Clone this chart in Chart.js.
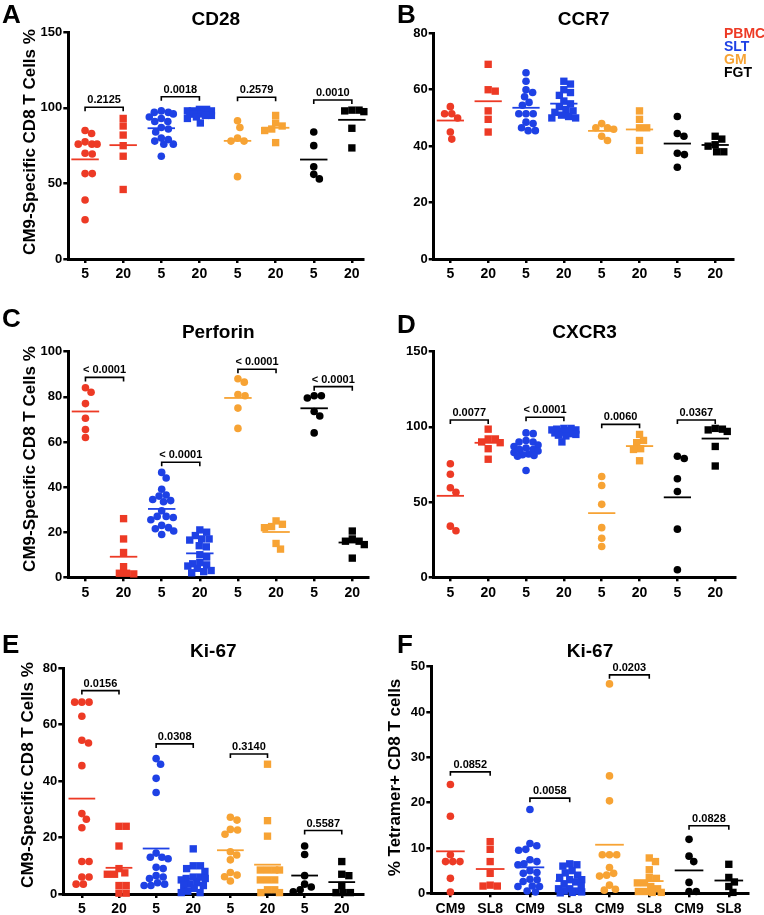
<!DOCTYPE html>
<html>
<head>
<meta charset="utf-8">
<script src="https://cdn.jsdelivr.net/npm/chart.js@4.4.0/dist/chart.umd.min.js"></script>
<style>
  body { margin: 0; background: #fff; width: 764px; height: 915px; position: relative; overflow: hidden; }
  canvas { position: absolute; }
</style>
</head>
<body>
<script>
const FONT = "'Liberation Sans', Arial, Helvetica, sans-serif";

const tissueNames = ['PBMC', 'SLT', 'GM', 'FGT'];
const tissueColors = ['#ED3A25', '#1E41E5', '#F7A334', '#000000'];
const dayLabels = ['5', '20', '5', '20', '5', '20', '5', '20'];
const peptideLabels = ['CM9', 'SL8', 'CM9', 'SL8', 'CM9', 'SL8', 'CM9', 'SL8'];

// A - CD28, groups: PBMC d5, PBMC d20, SLT d5, SLT d20, GM d5, GM d20, FGT d5, FGT d20
const cd28 = [
  [85, 83, 77.5, 76, 76, 76, 70, 69.5, 56.5, 56.5, 39, 26],
  [93, 88, 82, 75, 68, 46],
  [98, 97, 97, 96, 94, 93, 91, 91, 87, 86, 84, 80, 79, 78, 76, 76, 68],
  [99, 99, 98, 98, 98, 97, 97, 97, 96, 96, 96, 95, 95, 94, 93, 90],
  [91.5, 87, 80, 78, 78, 54.5],
  [95, 90, 88, 86, 85, 77],
  [84, 75, 61, 56, 53],
  [98.5, 98, 98.5, 97.5, 86.5, 73.5]
];
const cd28P = ['0.2125', '0.0018', '0.2579', '0.0010'];

// B - CCR7
const ccr7 = [
  [54, 51.5, 51.5, 50, 45, 42.5],
  [69, 60, 59.5, 52.5, 49.5, 45],
  [66, 63, 60, 59, 57.5, 55.5, 54.5, 51.5, 51.5, 51.5, 48.5, 48, 46.5, 45.5, 45.5],
  [63, 62, 60, 59, 58, 56, 55, 54, 53, 52.5, 52, 51, 50.5, 50, 50],
  [48, 46.5, 46.5, 46, 43.5, 42],
  [52.5, 49.5, 46.5, 46.5, 42, 38.5],
  [50.5, 44.5, 43.5, 37.5, 37, 32.5],
  [43.5, 42.5, 40.5, 40, 38, 38]
];

// C - Perforin
const perforin = [
  [84, 82, 77, 70.5, 65.5, 62],
  [26, 17, 11, 4.7, 1.8, 1.5, 1.8],
  [46.5, 44, 39, 36.5, 36, 34.5, 34, 33.5, 29.5, 27, 27, 26.5, 25.5, 23, 22, 21.5, 19, 20.5],
  [21, 20, 18.5, 17, 17, 16.5, 13.5, 14, 10, 9, 6.5, 6, 5.5, 5, 4, 3, 2.5, 2],
  [88, 86.5, 81, 80.5, 75, 66],
  [25, 23.5, 22.5, 22, 15, 12.5],
  [80.5, 80.5, 79.5, 73.5, 71.5, 64],
  [20.5, 17, 16, 16, 14.5, 8.5]
];
const perforinP = ['< 0.0001', '< 0.0001', '< 0.0001', '< 0.0001'];

// D - CXCR3
const cxcr3 = [
  [75.5, 68.5, 59.5, 56.5, 34, 31],
  [98.5, 92, 92, 90, 89.5, 85.5, 78.5],
  [96, 95.5, 91, 90, 90, 88, 87, 86, 85, 85, 84, 83, 82, 81.5, 81, 80.5, 71],
  [99, 99, 98.5, 98, 98, 97.5, 97, 97, 96.5, 96, 95.5, 95, 94.5, 94, 90],
  [67, 61, 48.5, 33, 26, 20.5],
  [95, 91, 89.5, 85.5, 85, 77.5],
  [80.5, 79, 65.5, 57, 32, 5],
  [99, 98.5, 98, 97, 87, 74]
];
const cxcr3P = ['0.0077', '< 0.0001', '0.0060', '0.0367'];

// E - Ki-67 by day
const ki67Day = [
  [68, 68, 68, 63, 54.5, 53.5, 45.5, 28.5, 26.5, 23.5, 11.5, 11.5, 6, 6, 3.5, 3.5],
  [24, 24, 17, 9, 7.5, 7, 7, 3, 3, 0.3, 0.3],
  [48, 46, 41, 36, 14.5, 13, 13, 12.5, 9.5, 9, 6.5, 6, 5.5, 4, 3.5, 3, 3],
  [16, 10, 10, 9, 8, 6, 6, 5.5, 5.5, 5, 4, 3.5, 3, 3, 2, 1, 0.5, 0.5],
  [27.2, 26.2, 22.9, 22.7, 21.2, 15, 13.8, 12.1, 7.6, 6.7, 6.1, 4.6],
  [46, 26, 20.5, 8.5, 8.5, 8.5, 8.5, 5, 5, 5, 1.5, 1.5, 0.5, 0.5],
  [17, 14, 6.5, 3.5, 2.5, 1.5, 0.8],
  [11.5, 7, 6.5, 3, 0.5, 0.5, 0.5]
];
const ki67DayP = ['0.0156', '0.0308', '0.3140', '0.5587'];

// F - Ki-67 by peptide
const ki67Pep = [
  [24, 17, 8.5, 7, 7, 7, 3.3, 0.3],
  [11.4, 9.7, 7, 4.4, 1.8, 1.6, 1.6],
  [18.5, 11, 10.5, 9.7, 9.5, 7.4, 7, 6.5, 6.3, 5, 4.6, 4.4, 3.1, 3, 2.6, 1.6, 1.5, 1.5, 0.5, 0.3],
  [6.5, 6.3, 6, 5, 4.5, 4, 3.5, 3, 3, 2.5, 2, 1.5, 1, 1, 0.5, 0.5, 0.3, 0.2, 0.1],
  [46.2, 25.9, 20.4, 8.5, 8.5, 8.5, 5.7, 4.4, 4, 3.8, 1.8, 0.9, 0.7],
  [7.8, 7, 5.2, 3.5, 3.3, 2.3, 2.3, 1.5, 1, 0.4, 0.4, 0.2, 0.2],
  [11.9, 8.2, 7, 2.4, 0.4, 0.4],
  [6.4, 3.5, 2.5, 1.5, 0.2]
];
const ki67PepP = ['0.0852', '0.0058', '0.0203', '0.0828'];

const yTitleDay = 'CM9-Specific CD8 T Cells %';

const panels = [
  { letter: 'A', title: 'CD28', data: cd28, labels: dayLabels, pvals: cd28P, yMax: 150, step: 50, yTitle: yTitleDay,
    box: [0, 0, 382, 295], area: [68.3, 32.3, 363.3, 259], xr: [-0.44, 7.3],
    letterPos: [2, 23], titleY: 25, yTitlePos: [30, 142], bracketY: [100.4, 107.4, 107, 105.2] },
  { letter: 'B', title: 'CCR7', data: ccr7, labels: dayLabels, pvals: null, yMax: 80, step: 20, yTitle: null,
    box: [382, 0, 382, 295], area: [51.7, 33.3, 351.7, 259], xr: [-0.44, 7.49],
    letterPos: [15, 23], titleY: 25, legend: true },
  { letter: 'C', title: 'Perforin', data: perforin, labels: dayLabels, pvals: perforinP, yMax: 100, step: 20, yTitle: yTitleDay,
    box: [0, 295, 382, 305], area: [68.3, 56.7, 368.3, 282.3], xr: [-0.45, 7.42],
    letterPos: [2, 32], titleY: 43, yTitlePos: [30, 164], bracketY: [88.6, 51, 92.2, 84.5] },
  { letter: 'D', title: 'CXCR3', data: cxcr3, labels: dayLabels, pvals: cxcr3P, yMax: 150, step: 50, yTitle: null,
    box: [382, 295, 382, 305], area: [51.7, 56.7, 353.3, 282.3], xr: [-0.44, 7.53],
    letterPos: [15, 38], titleY: 43, bracketY: [104.6, 106.4, 101.7, 104.6] },
  { letter: 'E', title: 'Ki-67', data: ki67Day, labels: dayLabels, pvals: ki67DayP, yMax: 80, step: 20, yTitle: yTitleDay,
    box: [0, 600, 382, 315], area: [63.3, 68.3, 363.3, 294], xr: [-0.5, 7.58],
    letterPos: [2, 53], titleY: 57, yTitlePos: [28, 175], bracketY: [72.1, 53.2, 49.6, 22.5] },
  { letter: 'F', title: 'Ki-67', data: ki67Pep, labels: peptideLabels, pvals: ki67PepP, yMax: 50, step: 10, yTitle: '% Tetramer+ CD8 T cells',
    box: [382, 600, 382, 315], area: [49.3, 66.7, 366.7, 293.3], xr: [-0.48, 7.5],
    letterPos: [15, 53], titleY: 57, yTitlePos: [13.5, 177.5], bracketY: [26.8, 21, 48.2, 14.9] }
];

// beeswarm: spread points sideways, but never wider than maxW px from the centre
function swarm(vals, pxX, pxY, d, maxW) {
  const order = vals.map((v, i) => i).sort((a, b) => vals[b] - vals[a]);
  const placed = [];
  const off = new Array(vals.length).fill(0);
  order.forEach(i => {
    const y = vals[i] * pxY;
    const near = placed.filter(p => Math.abs(p.y - y) < d);
    const cands = [0];
    near.forEach(p => {
      const dx = Math.sqrt(d * d - (p.y - y) * (p.y - y));
      cands.push(p.x + dx, p.x - dx);
    });
    cands.sort((a, b) => Math.abs(a) - Math.abs(b));
    let x = cands.find(c => Math.abs(c) <= maxW &&
      near.every(p => (p.x - c) ** 2 + (p.y - y) ** 2 >= d * d - 0.01));
    if (x === undefined) {
      let bestD = -1;
      for (let c = 0; c <= maxW; c += 0.5) {
        [c, -c].forEach(s => {
          const md = Math.min(...near.map(p => Math.hypot(p.x - s, p.y - y)));
          if (md > bestD + 0.01) { bestD = md; x = s; }
        });
      }
    }
    placed.push({ x: x, y: y });
    off[i] = x / pxX;
  });
  return off;
}

function mean(a) {
  return a.reduce((s, v) => s + v, 0) / a.length;
}

const annot = {
  id: 'annot',
  afterDatasetsDraw(chart, args, o) {
    const ctx = chart.ctx;
    const xs = chart.scales.x, ys = chart.scales.y, a = chart.chartArea;
    ctx.save();
    ctx.fillStyle = '#000';
    ctx.textBaseline = 'alphabetic';

    ctx.font = 'bold 26px ' + FONT;
    ctx.textAlign = 'left';
    ctx.fillText(o.letter, o.letterPos[0], o.letterPos[1]);

    ctx.font = 'bold 19px ' + FONT;
    ctx.textAlign = 'center';
    ctx.fillText(o.title, (a.left + a.right) / 2, o.titleY);

    if (o.yTitle) {
      ctx.save();
      ctx.translate(o.yTitlePos[0], o.yTitlePos[1]);
      ctx.rotate(-Math.PI / 2);
      ctx.font = 'bold 17px ' + FONT;
      ctx.textBaseline = 'middle';
      ctx.fillText(o.yTitle, 0, 0);
      ctx.restore();
    }

    if (o.pvals) {
      ctx.font = 'bold 11px ' + FONT;
      ctx.textAlign = 'center';
      o.pvals.forEach((t, j) => {
        const xm = (xs.getPixelForValue(2 * j) + xs.getPixelForValue(2 * j + 1)) / 2;
        ctx.fillText(t, xm, ys.getPixelForValue(o.bracketY[j]) - 4);
      });
    }

    if (o.legend) {
      ctx.font = 'bold 14px ' + FONT;
      ctx.textAlign = 'left';
      tissueNames.forEach((n, i) => {
        ctx.fillStyle = tissueColors[i];
        ctx.fillText(n, 342, 37.7 + i * 13);
      });
    }
    ctx.restore();
  }
};

panels.forEach(p => {
  const [bx, by, bw, bh] = p.box;
  const [al, at, ar, ab] = p.area;
  const cv = document.createElement('canvas');
  cv.width = bw;
  cv.height = bh;
  cv.style.left = bx + 'px';
  cv.style.top = by + 'px';
  document.body.appendChild(cv);

  const pxX = (ar - al) / (p.xr[1] - p.xr[0]);
  const pxY = (ab - at) / p.yMax;
  const datasets = [];

  p.data.forEach((vals, i) => {
    const off = swarm(vals, pxX, pxY, 7.2, 12);
    datasets.push({
      data: vals.map((v, k) => ({ x: i + off[k], y: v })),
      pointStyle: i % 2 ? 'rect' : 'circle',
      pointRadius: i % 2 ? 5.2 : 3.8,
      backgroundColor: tissueColors[i >> 1],
      borderWidth: 0,
      clip: false
    });
  });

  p.data.forEach((vals, i) => {
    const m = mean(vals);
    datasets.push({
      data: [{ x: i - 0.36, y: m }, { x: i + 0.36, y: m }],
      showLine: true,
      borderColor: tissueColors[i >> 1],
      borderWidth: 1.8,
      pointRadius: 0,
      clip: false
    });
  });

  const leg = 4 / pxY;
  if (p.pvals) {
    p.pvals.forEach((t, j) => {
      const a = 2 * j, b = 2 * j + 1, h = p.bracketY[j];
      datasets.push({
        data: [{ x: a, y: h - leg }, { x: a, y: h }, { x: b, y: h }, { x: b, y: h - leg }],
        showLine: true,
        borderColor: '#000',
        borderWidth: 1.6,
        pointRadius: 0,
        clip: false
      });
    });
  }

  new Chart(cv, {
    type: 'scatter',
    data: { datasets: datasets },
    options: {
      responsive: false,
      animation: false,
      events: [],
      layout: { padding: { left: al - 40, top: at, right: bw - ar, bottom: bh - ab - 20 } },
      plugins: {
        legend: { display: false },
        tooltip: { enabled: false },
        annot: p
      },
      scales: {
        x: {
          type: 'linear',
          min: p.xr[0],
          max: p.xr[1],
          afterBuildTicks: s => { s.ticks = p.labels.map((l, i) => ({ value: i })); },
          afterFit: s => { s.height = 20; },
          ticks: {
            callback: v => p.labels[v],
            autoSkip: false,
            maxRotation: 0,
            padding: 3,
            color: '#000',
            font: { family: FONT, size: 14, weight: 'bold' }
          },
          grid: { drawOnChartArea: false, drawTicks: true, tickLength: 4, lineWidth: 2.5, color: '#000' },
          border: { display: true, color: '#000', width: 3 }
        },
        y: {
          type: 'linear',
          min: 0,
          max: p.yMax,
          afterFit: s => { s.width = 40; },
          ticks: {
            stepSize: p.step,
            padding: 1,
            color: '#000',
            font: { family: FONT, size: 13, weight: 'bold' }
          },
          grid: { drawOnChartArea: false, drawTicks: true, tickLength: 5, lineWidth: 2.5, color: '#000' },
          border: { display: true, color: '#000', width: 3 }
        }
      }
    },
    plugins: [annot]
  });
});
</script>
</body>
</html>
